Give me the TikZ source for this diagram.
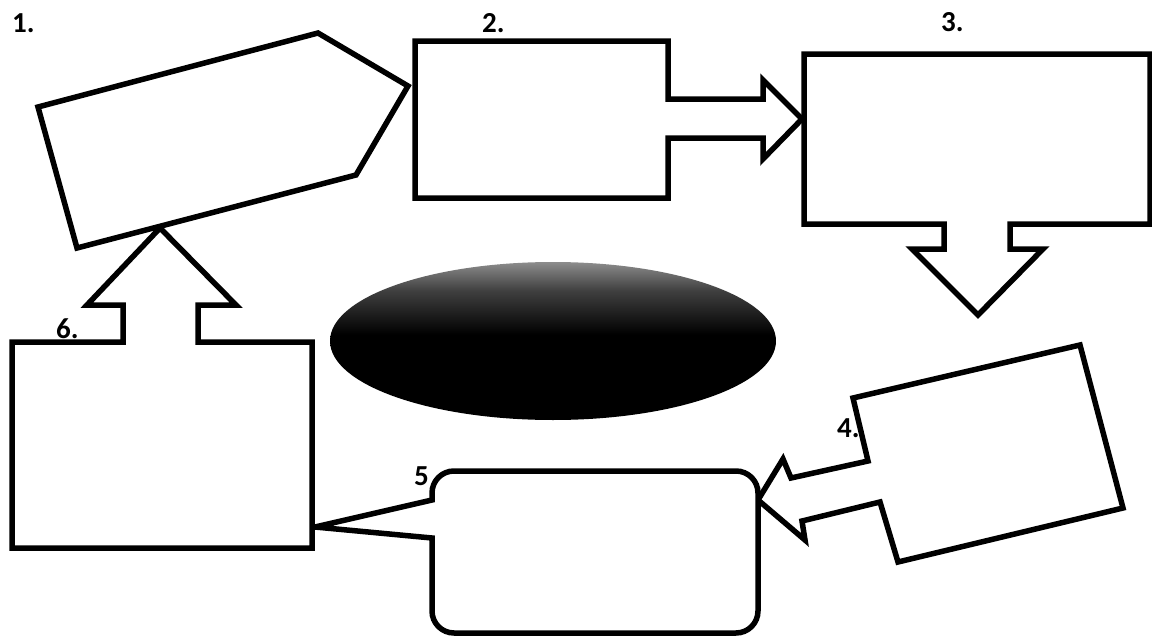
\documentclass[tikz,border=0pt]{standalone}
\usepackage{fontspec}
\setmainfont{Carlito}
\pgfdeclareverticalshading{ellshade}{100bp}{color(0bp)=(black); color(25bp)=(black); color(52bp)=(black); color(66bp)=(black!75); color(75bp)=(black!45); color(100bp)=(black!45)}
\begin{document}
\begin{tikzpicture}[x=1pt,y=-1pt,
  shapeline/.style={draw=black,line width=5.5pt,line join=miter,fill=white},
  numlabel/.style={font=\fontsize{29}{29}\selectfont\bfseries,inner sep=0pt,anchor=base west}]
\useasboundingbox (0,0) rectangle (1152,637);
\fill[white] (0,0) rectangle (1152,637);

% central ellipse
\shade[shading=ellshade] (553,341) ellipse [x radius=223,y radius=79];

% 1: pentagon
\draw[shapeline] (38,107) -- (318,33) -- (408,86) -- (356,175) -- (77,248) -- cycle;

% 2: box with right arrow
\draw[shapeline] (415,41) -- (668,41) -- (668,99) -- (763,99) -- (763,80) -- (802,119)
  -- (763,159) -- (763,138) -- (668,138) -- (668,198) -- (415,198) -- cycle;

% 3: box with down arrow
\draw[shapeline] (804,54) -- (1150,54) -- (1150,224) -- (1010,224) -- (1010,249)
  -- (1043,249) -- (978,315) -- (912,249) -- (944,249) -- (944,224) -- (804,224) -- cycle;

% 4: tilted box with left arrow
\draw[shapeline] (853,398) -- (1080,345) -- (1123,508) -- (898,562) -- (880,502)
  -- (802,521) -- (805,540) -- (758,500) -- (783,459) -- (791,478) -- (868,461) -- cycle;

% 5: rounded callout
\draw[shapeline] (315,527) -- (432,500) -- (432,493) arc (180:270:22) -- (736,471)
  arc (270:360:22) -- (758,611) arc (0:90:22) -- (454,633) arc (90:180:22)
  -- (432,538) -- cycle;

% 6: box with up arrow
\draw[shapeline] (12,342) -- (123,342) -- (123,305) -- (87,305) -- (160,228) -- (236,305)
  -- (198,305) -- (198,342) -- (312,342) -- (312,548) -- (12,548) -- cycle;

% labels
\node[numlabel] (l1) at (12,32) {1.};
\node[numlabel] (l2) at (482,32) {2.};
\node[numlabel] (l3) at (941,31) {3.};
\node[numlabel] (l4) at (837,437) {4.};
\node[numlabel] (l5) at (414,485) {5};
\node[numlabel] (l6) at (56,338) {6.};
\end{tikzpicture}
\end{document}
